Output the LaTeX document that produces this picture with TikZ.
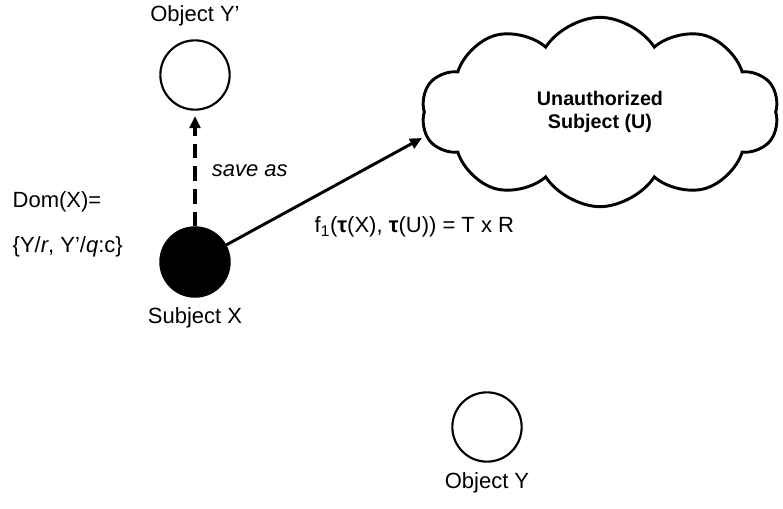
\documentclass[tikz,border=0pt]{standalone}
\usepackage{fontspec}
\setmainfont{Liberation Sans}
\usetikzlibrary{shapes.symbols, arrows.meta, positioning}
\definecolor{inkmain}{HTML}{000000}
\newcommand{\tauarg}[1]{\textbf{τ}(#1)}

\begin{document}
\begin{tikzpicture}[x=0.75pt, y=-0.75pt,
    font=\fontsize{16.5}{19}\selectfont,
    objnode/.style={circle, draw=inkmain, line width=1.6pt, minimum size=52pt, inner sep=0pt},
    subjnode/.style={objnode, fill=inkmain},
    flowarrow/.style={line width=2.2pt, -{Triangle[length=9pt, width=8pt]}}]
  \useasboundingbox (0,0) rectangle (783,508);

  % objects and subject
  \node[objnode] (objyp) at (195,75) {};
  \node[subjnode] (subx) at (195,262) {};
  \node[objnode] (objy) at (487,427) {};
  \node[above=6pt of objyp] (objyplbl) {Object Y’};
  \node[below=4pt of subx] (subxlbl) {Subject X};
  \node[below=4pt of objy] (objylbl) {Object Y};

  % unauthorized subject
  \node[cloud, cloud ignores aspect, draw=inkmain, line width=2.2pt, cloud puffs=10,
        cloud puff arc=115, minimum width=268pt, minimum height=142pt, align=center,
        font=\fontsize{14.8}{17}\selectfont\bfseries] (unauth) at (600,112)
        {Unauthorized\\Subject (U)};

  % domain of X
  \node[anchor=west] (domx) at (8,202) {Dom(X)=};
  \node[anchor=west] (domset) at (8,247) {\{Y/\textit{r}, Y’/\textit{q}:c\}};

  % connectors
  \draw[flowarrow, line width=2.6pt, dash pattern=on 11pt off 6pt] (subx) -- ([yshift=-4pt]objyp.south)
    node[midway, right=8pt, font=\fontsize{16.5}{19}\selectfont\itshape] (saveas) {save as};
  \coordinate (uin) at (422,138);
  \draw[flowarrow] (subx) -- (uin);
  \node[anchor=west] (flbl) at (310,227)
    {f\textsubscript{1}(\tauarg{X}, \tauarg{U}) = T x R};
\end{tikzpicture}
\end{document}
